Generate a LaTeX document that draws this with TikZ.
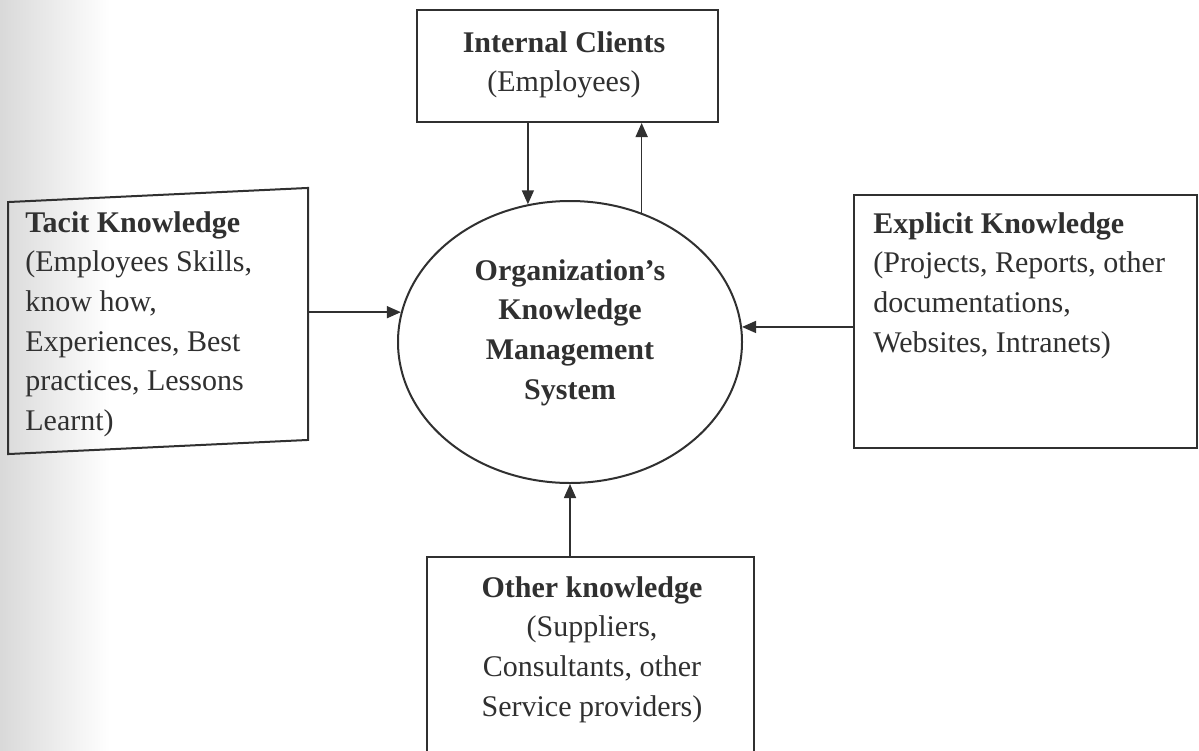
\documentclass[tikz,border=0pt]{standalone}
\usepackage{fontspec}
\setmainfont{Liberation Serif}
\usetikzlibrary{arrows.meta,shapes.geometric}

\definecolor{ink}{RGB}{48,48,48}

\tikzset{
  frame/.style={draw=ink, line width=1pt, rectangle, inner sep=0pt},
  label/.style={text=ink, inner sep=0pt, font=\fontsize{15}{19.8}\selectfont},
  arr/.style={draw=ink, line width=0.8pt, -{Triangle[length=7pt,width=6pt]}}
}

\begin{document}
\begin{tikzpicture}[x=0.5pt, y=-0.5pt]
  \useasboundingbox (0,0) rectangle (1199,750);
  \fill[white] (0,0) rectangle (1199,750);
  % paper shading along the left edge
  \shade[left color=black!15, right color=white] (0,0) rectangle (110,750);

  % central system
  \node[draw=ink, line width=1pt, ellipse, minimum width=172pt, minimum height=141pt, inner sep=0pt] (ell) at (570,342) {};
  \node[label, align=center, anchor=north] (elltext) at (570,259)
    {\textbf{Organization's}\\\textbf{Knowledge}\\\textbf{Management}\\\textbf{System}};

  % surrounding sources
  \node[frame, minimum width=150.5pt, minimum height=56pt] (int) at (567.5,66) {};
  \node[label, align=center, anchor=north] (inttext) at (564,31)
    {\textbf{Internal Clients}\\(Employees)};

  \node[frame, yslant=0.047, minimum width=150pt, minimum height=126pt] (tacit) at (158,321) {};
  \node[label, align=left, anchor=north west] (tacittext) at (25,211)
    {\textbf{Tacit Knowledge}\\(Employees Skills,\\know how,\\Experiences, Best\\practices, Lessons\\Learnt)};

  \node[frame, minimum width=171.5pt, minimum height=126.5pt] (expl) at (1025.5,321.5) {};
  \node[label, align=left, anchor=north west] (expltext) at (873,212)
    {\textbf{Explicit Knowledge}\\(Projects, Reports, other\\documentations,\\Websites, Intranets)};

  \node[frame, minimum width=163.5pt, minimum height=116pt] (oth) at (590.5,673) {};
  \node[label, align=center, anchor=north] (othtext) at (592,576)
    {\textbf{Other knowledge}\\(Suppliers,\\Consultants, other\\Service providers)};

  % flows
  \draw[arr] (int.south -| ell.107) -- (ell.107);
  \draw[arr] (ell.61) -- (ell.61 |- int.south);
  \draw[arr] (tacit.east |- ell.170) -- (ell.170);
  \draw[arr] (expl.west |- ell.5) -- (ell.5);
  \draw[arr] (oth.north -| ell.south) -- (ell.south);
\end{tikzpicture}
\end{document}
